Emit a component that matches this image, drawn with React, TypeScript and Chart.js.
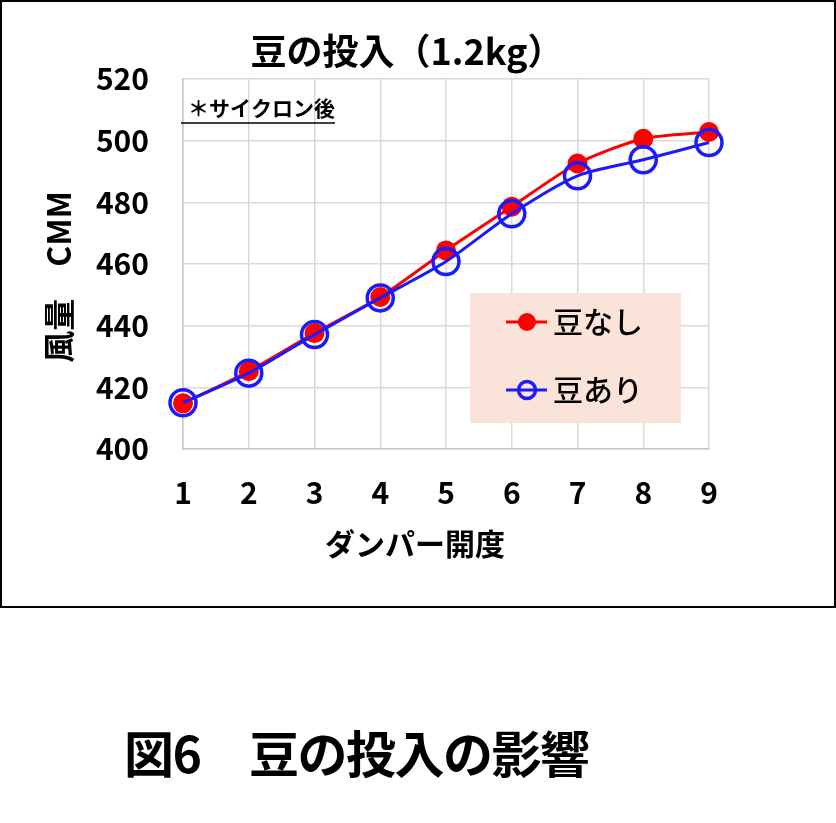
import { useEffect, useRef } from 'react';
import { Chart, registerables } from 'chart.js';

Chart.register(...registerables);

const damperLabels = ['1', '2', '3', '4', '5', '6', '7', '8', '9'];
const withoutBeans = [414.8, 425.2, 437.6, 449.3, 464.4, 478.6, 492.6, 500.6, 502.8];
const withBeans = [415.0, 424.6, 437.1, 449.0, 460.8, 476.3, 488.6, 493.8, 499.4];
const yTicks = { min: 400, max: 520, step: 20 };

const FONT = '"Noto Sans CJK JP", "Noto Sans", sans-serif';
const RED = '#ff0000';
const BLUE = '#1a1aff';

// titles, note and legend box are drawn by hand to match the Excel layout
const overlayPlugin = {
  id: 'overlay',
  afterDraw(chart: Chart) {
    const ctx = chart.ctx;
    ctx.save();
    ctx.fillStyle = '#000';
    ctx.textBaseline = 'middle';

    ctx.font = `bold 36px ${FONT}`;
    ctx.textAlign = 'center';
    ctx.fillText('豆の投入（1.2kg）', 405, 49);

    ctx.font = `bold 30px ${FONT}`;
    ctx.fillText('ダンパー開度', 413, 542);

    ctx.save();
    ctx.translate(57, 275);
    ctx.rotate(-Math.PI / 2);
    ctx.font = `bold 32px ${FONT}`;
    ctx.fillText('風量　CMM', 0, 0);
    ctx.restore();

    // note
    ctx.font = `bold 21px ${FONT}`;
    ctx.textAlign = 'left';
    ctx.fillText('＊サイクロン後', 186, 106);
    ctx.strokeStyle = '#000';
    ctx.lineWidth = 1.5;
    ctx.beginPath();
    ctx.moveTo(179, 121);
    ctx.lineTo(333, 121);
    ctx.stroke();

    // legend
    ctx.fillStyle = '#fae4da';
    ctx.fillRect(468, 291, 211, 130);
    const rows = [320, 388];
    chart.data.datasets.forEach((ds: any, i: number) => {
      const y = rows[i];
      ctx.strokeStyle = ds.borderColor;
      ctx.lineWidth = 3;
      ctx.beginPath();
      ctx.moveTo(504, y);
      ctx.lineTo(545, y);
      ctx.stroke();
      ctx.beginPath();
      if (ds.pointBorderWidth > 0) {
        ctx.lineWidth = ds.pointBorderWidth;
        ctx.arc(525, y, 8.5, 0, Math.PI * 2);
        ctx.stroke();
      } else {
        ctx.fillStyle = ds.pointBackgroundColor;
        ctx.arc(525, y, 9, 0, Math.PI * 2);
        ctx.fill();
      }
      ctx.fillStyle = '#000';
      ctx.font = `500 30px ${FONT}`;
      ctx.textAlign = 'left';
      ctx.fillText(ds.label, 551, y);
    });
    ctx.restore();
  },
};

export default function App() {
  const chartRef = useRef<HTMLCanvasElement>(null);
  const chartInstance = useRef<Chart | null>(null);

  useEffect(() => {
    if (!chartRef.current) return;
    if (chartInstance.current) chartInstance.current.destroy();

    const ctx = chartRef.current.getContext('2d');
    if (!ctx) return;

    chartInstance.current = new Chart(ctx, {
      type: 'line',
      data: {
        labels: damperLabels,
        datasets: [
          {
            label: '豆なし',
            data: withoutBeans,
            borderColor: RED,
            backgroundColor: RED,
            borderWidth: 3,
            pointRadius: 10,
            pointBackgroundColor: RED,
            pointBorderWidth: 0,
            tension: 0.25,
            order: 2,
          },
          {
            label: '豆あり',
            data: withBeans,
            borderColor: BLUE,
            backgroundColor: 'transparent',
            borderWidth: 3,
            pointRadius: 13,
            pointBackgroundColor: 'transparent',
            pointBorderColor: BLUE,
            pointBorderWidth: 3.5,
            tension: 0.25,
            order: 1,
          },
        ],
      },
      options: {
        animation: false,
        responsive: false,
        layout: { padding: { left: 0, right: 125, top: 77, bottom: 0 } },
        plugins: {
          legend: { display: false },
          title: { display: false },
          tooltip: { enabled: false },
        },
        scales: {
          x: {
            type: 'category',
            offset: false,
            afterFit: (scale: any) => { scale.height = 157; },
            grid: { color: '#d9d9d9', lineWidth: 1.5, drawTicks: false },
            border: { color: '#c8c8c8', width: 1.5 },
            ticks: {
              padding: 26,
              color: '#000',
              font: { family: FONT, size: 30, weight: 'bold' },
              maxRotation: 0,
            },
          },
          y: {
            min: yTicks.min,
            max: yTicks.max,
            afterFit: (scale: any) => { scale.width = 181; },
            grid: { color: '#d9d9d9', lineWidth: 1.5, drawTicks: false },
            border: { color: '#c8c8c8', width: 1.5 },
            ticks: {
              stepSize: yTicks.step,
              padding: 34,
              color: '#000',
              font: { family: FONT, size: 30, weight: 'bold' },
            },
          },
        },
      },
      plugins: [overlayPlugin],
    } as any);

    return () => {
      if (chartInstance.current) {
        chartInstance.current.destroy();
        chartInstance.current = null;
      }
    };
  }, []);

  return (
    <div style={{ position: 'absolute', left: 0, top: 0, width: 836, height: 823, background: '#fff' }}>
      <div
        style={{
          position: 'absolute',
          left: 0,
          top: 0,
          width: 836,
          height: 608,
          border: '2px solid #000',
          boxSizing: 'border-box',
        }}
      >
        <canvas ref={chartRef} width={832} height={604} style={{ display: 'block' }} />
      </div>
      <div
        style={{
          position: 'absolute',
          left: 124,
          top: 726,
          fontFamily: FONT,
          fontWeight: 'bold',
          fontSize: 50,
          lineHeight: '50px',
          letterSpacing: '-1.5px',
          whiteSpace: 'pre',
        }}
      >
        図6　豆の投入の影響
      </div>
    </div>
  );
}
